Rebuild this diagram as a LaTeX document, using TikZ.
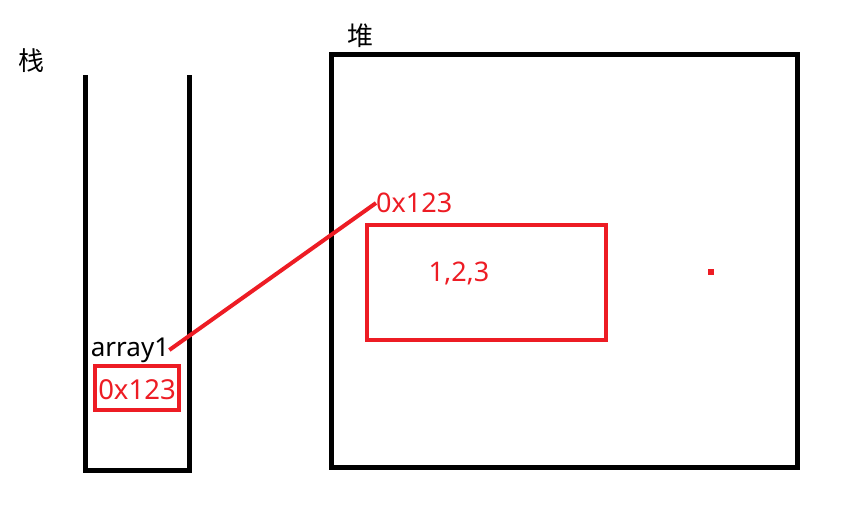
\documentclass[tikz,border=0pt]{standalone}
\usepackage{fontspec}
\setmainfont{Noto Sans}
\newfontfamily\cjk{Noto Sans CJK SC}
\definecolor{pred}{RGB}{237,28,36}
\tikzset{
	txt/.style={inner sep=0pt, font=\fontsize{26}{30}\selectfont},
	redtxt/.style={txt, text=pred, font=\fontsize{27}{31}\selectfont}
}

\begin{document}
\begin{tikzpicture}[x=1pt, y=-1pt]
			%%%%% START %%%%%
			\useasboundingbox (0, 0) rectangle (842, 506);
			
			% stack
			\node[txt, font=\cjk\fontsize{26}{30}\selectfont] (stacklabel) at (31, 61) {栈};
			\draw[line width=5pt, color=black] (85, 75) -- (85, 470) -- (189, 470) -- (189, 75);
			
			\node[txt] (arrayname) at (130, 350) {array1};
			\draw[line width=4pt, color=pred] (95, 366) rectangle (179, 410);
			\node[redtxt, font=\fontsize{27.5}{32}\selectfont] (stackaddr) at (137, 390) {0x123};
			
			% heap
			\node[txt, font=\cjk\fontsize{26}{30}\selectfont] (heaplabel) at (360, 36) {堆};
			\draw[line width=5pt, color=black] (331, 54) rectangle (797, 467);
			
			\node[redtxt, anchor=west] (heapaddr) at (376, 203) {0x123};
			\draw[line width=4pt, color=pred] (367, 225) rectangle (606, 340);
			\node[redtxt] (values) at (459, 273) {1,2,3};
			\fill[color=pred] (708, 269) rectangle (714, 275);
			
			\draw[line width=4pt, color=pred] (arrayname.east) -- (heapaddr.west);
			
			%%%%% END %%%%%
		\end{tikzpicture}
\end{document}
